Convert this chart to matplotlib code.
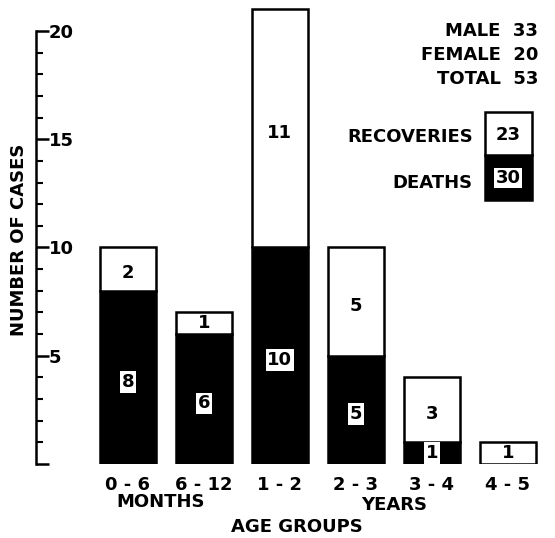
import numpy as np
import matplotlib
matplotlib.use("Agg")
import matplotlib.pyplot as plt
from matplotlib.patches import Rectangle

# data
age_groups = ["0 - 6", "6 - 12", "1 - 2", "2 - 3", "3 - 4", "4 - 5"]
deaths = [8, 6, 10, 5, 1, 0]
recoveries = [2, 1, 11, 5, 3, 1]
totals_text = ["MALE  33", "FEMALE  20", "TOTAL  53"]
total_recoveries = 23
total_deaths = 30

W, H = 555, 538
FS = 13
plt.rcParams["font.family"] = ["DejaVu Sans"]
plt.rcParams["font.weight"] = "bold"
fig = plt.figure(figsize=(W / 100, H / 100), dpi=100)


def px(x, y):
    # pixel position (from top left) -> figure fraction
    return x / W, 1 - y / H


ax = fig.add_axes([36 / W, 74 / H, (W - 36) / W, 464 / H])
x = np.arange(len(age_groups))
width = 0.74

ax.bar(x, deaths, width, color="black", edgecolor="black", linewidth=1.8)
ax.bar(x, recoveries, width, bottom=deaths, color="white", edgecolor="black", linewidth=1.8)

for i in range(len(x)):
    d, r = deaths[i], recoveries[i]
    if d > 0:
        ax.text(x[i], d / 2 - (0.2 if d > 1 else 0), str(d), ha="center", va="center",
                fontsize=FS, bbox=dict(boxstyle="square,pad=0.1", fc="white", ec="none"))
    if r > 0:
        ax.text(x[i], d + r / 2 - (0.2 if r > 1 else 0), str(r), ha="center", va="center",
                fontsize=FS)

ax.set_xlim(-1.21, 5.62)
ax.set_ylim(0, 21.43)

# y axis drawn as a bracket with labels on its right side
for s in ["left", "top", "bottom"]:
    ax.spines[s].set_visible(False)
ax.spines["right"].set_position(("axes", 0))
ax.spines["right"].set_bounds(0, 20)
ax.spines["right"].set_linewidth(1.8)
ax.yaxis.tick_right()
ax.set_yticks([0, 5, 10, 15, 20])
ax.set_yticklabels(["", "5", "10", "15", "20"])
ax.set_yticks(np.arange(0, 21), minor=True)
ax.tick_params(axis="y", which="major", length=9, width=1.8, pad=0, labelsize=FS)
ax.tick_params(axis="y", which="minor", length=5, width=1.5)

ax.set_xticks(x)
ax.set_xticklabels(age_groups, fontsize=FS)
ax.tick_params(axis="x", length=0, pad=9)

fig.text(*px(19, 240), "NUMBER OF CASES", rotation=90, ha="center", va="center", fontsize=FS)
fig.text(*px(161, 502), "MONTHS", ha="center", va="center", fontsize=FS)
fig.text(*px(394, 505), "YEARS", ha="center", va="center", fontsize=FS)
fig.text(*px(297, 527), "AGE GROUPS", ha="center", va="center", fontsize=FS)

for k, t in enumerate(totals_text):
    fig.text(*px(538, 31 + 24 * k), t, ha="right", va="center", fontsize=FS)

# legend box
x0, y0 = px(485, 200)
x1, y1 = px(532, 155)
x2, y2 = px(532, 112)
fig.patches.append(Rectangle((x0, y0), x1 - x0, y1 - y0, transform=fig.transFigure,
                             fc="black", ec="black", lw=1.8))
fig.patches.append(Rectangle((x0, y1), x1 - x0, y2 - y1, transform=fig.transFigure,
                             fc="white", ec="black", lw=1.8))
fig.text(*px(508, 135), str(total_recoveries), ha="center", va="center", fontsize=FS)
fig.text(*px(508, 178), str(total_deaths), ha="center", va="center", fontsize=FS,
         bbox=dict(boxstyle="square,pad=0.06", fc="white", ec="none"))
fig.text(*px(473, 137), "RECOVERIES", ha="right", va="center", fontsize=FS)
fig.text(*px(473, 183), "DEATHS", ha="right", va="center", fontsize=FS)

fig.savefig("out.png", dpi=100)
